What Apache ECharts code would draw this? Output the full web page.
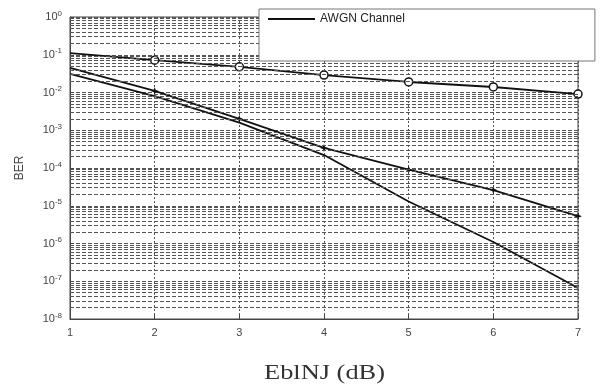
<!DOCTYPE html>
<html><head><meta charset="utf-8">
<script src="https://cdn.jsdelivr.net/npm/echarts@6/dist/echarts.min.js"></script>
<style>html,body{margin:0;padding:0;background:#fff}#c{width:608px;height:392px}</style>
</head><body><div id="c"></div>
<script>
var xValues = [1, 2, 3, 4, 5, 6, 7];
var circleSeries = [0.11, 0.072, 0.048, 0.029, 0.019, 0.014, 0.0091];
var starSeries = [0.045, 0.011, 0.002, 0.00034, 0.00009, 0.000026, 0.0000053];
var awgnSeries = [0.031, 0.008, 0.0016, 0.00022, 0.000013, 0.0000011, 0.000000066];
var legendLabel = 'AWGN Channel';
var xTitle = 'EblNJ (dB)';
var yTitle = 'BER';

function pairs(vals, noFirst) {
  return xValues.map(function (x, i) {
    var p = { value: [x, vals[i]] };
    if (noFirst && i === 0) p.symbol = 'none';
    return p;
  });
}
var minorVals = [];
for (var k = -8; k <= -1; k++) {
  for (var m = 2; m <= 9; m++) minorVals.push({ yAxis: m * Math.pow(10, k) });
}
var starPath = 'path://M0,-5 L1.3,-1.3 L5,0 L1.3,1.3 L0,5 L-1.3,1.3 L-5,0 L-1.3,-1.3 Z';

var chart = echarts.init(document.getElementById('c'));
chart.setOption({
  animation: false,
  grid: { left: 70, right: 30, top: 17, bottom: 73, show: true, borderColor: '#444', borderWidth: 1, backgroundColor: 'transparent' },
  legend: {
    data: [legendLabel], left: 259, top: 9, orient: 'vertical', z: 20,
    icon: 'rect', itemWidth: 47, itemHeight: 2, itemGap: 5,
    backgroundColor: '#fff', borderColor: '#777', borderWidth: 1,
    padding: [4, 190, 36, 9],
    textStyle: { fontFamily: 'Liberation Sans', fontSize: 12, color: '#222' }
  },
  graphic: [{
    type: 'text', left: 264, top: 362, scaleX: 1.2, z: 10,
    style: { text: xTitle, fontFamily: 'Liberation Serif', fontSize: 22, fill: '#333' }
  }],
  xAxis: {
    type: 'value', min: 1, max: 7, interval: 1,
    axisLine: { show: true, lineStyle: { color: '#444' } },
    axisTick: { inside: true, length: 4, lineStyle: { color: '#444' } },
    axisLabel: { fontFamily: 'Liberation Sans', fontSize: 11, color: '#444', margin: 8 },
    splitLine: { show: true, lineStyle: { color: '#555', type: [2, 2], width: 1 } }
  },
  yAxis: {
    type: 'log', logBase: 10, min: 1e-8, max: 1, interval: 1,
    name: yTitle, nameLocation: 'middle', nameGap: 44, nameRotate: 90,
    nameTextStyle: { fontFamily: 'Liberation Sans', fontSize: 12, color: '#444' },
    axisLine: { show: true, lineStyle: { color: '#444' } },
    axisTick: { inside: true, length: 4, lineStyle: { color: '#444' } },
    axisLabel: {
      margin: 8,
      formatter: function (v) {
        var e = Math.round(Math.log10(v));
        return '{b|10}{s|' + e + '}';
      },
      rich: {
        b: { fontFamily: 'Liberation Sans', fontSize: 11, color: '#444' },
        s: { fontFamily: 'Liberation Sans', fontSize: 8, color: '#444', verticalAlign: 'top', padding: [0, 0, 7, 0] }
      }
    },
    splitLine: { show: true, lineStyle: { color: '#555', type: [4, 2], width: 1 } }
  },
  series: [
    {
      name: 'Jamming 1', type: 'line', data: pairs(circleSeries, true),
      symbol: 'circle', symbolSize: 8,
      itemStyle: { color: '#fff', borderColor: '#111', borderWidth: 1.5 },
      lineStyle: { color: '#111', width: 1.8 }, z: 3,
      markLine: {
        silent: true, symbol: 'none', label: { show: false }, animation: false,
        precision: 12,
        lineStyle: { color: '#555', type: [4, 2], width: 1 },
        data: minorVals
      }
    },
    {
      name: 'Jamming 2', type: 'line', data: pairs(starSeries, true),
      symbol: starPath, symbolSize: 8,
      itemStyle: { color: '#111' },
      lineStyle: { color: '#111', width: 1.8 }, z: 3
    },
    {
      name: legendLabel, type: 'line', data: pairs(awgnSeries, false),
      symbol: 'none', itemStyle: { color: '#111' },
      lineStyle: { color: '#111', width: 1.8 }, z: 3
    }
  ]
});
</script></body></html>
